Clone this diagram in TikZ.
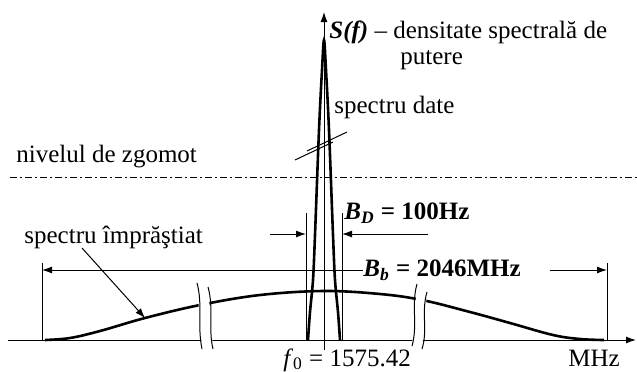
\documentclass[tikz,border=0pt]{standalone}
\usepackage{fontspec}
\setmainfont{Liberation Serif}
\usetikzlibrary{arrows.meta}

\begin{document}
\begin{tikzpicture}[x=0.5pt, y=-0.5pt, >={Latex[length=5pt,width=3.5pt]},
  fin/.style={line width=0.5pt},
  gros/.style={line width=1.3pt},
  eticheta/.style={font=\fontsize{12.5}{15}\selectfont, inner sep=0pt, anchor=west}]
  \useasboundingbox (0,0) rectangle (637,371);
  % spectrul imprastiat
  \draw[gros] plot[smooth, tension=0.6] coordinates {(45,340) (70,338) (100,331) (145,318)
    (200,305) (260,295) (324,291) (380,294) (422,300) (470,312) (510,323) (553,335) (580,339) (604,340)};
  % axe
  \draw[fin, ->] (8,340) -- (636,340);
  \draw[fin, ->] (324,350) -- (324,12);
  % intreruperi
  \fill[white] (197,283) -- (208,287) -- (213,349) -- (202,349) -- cycle;
  \draw[fin] (197,283) .. controls (203,305) and (197,325) .. (202,349);
  \draw[fin] (208,287) .. controls (214,308) and (208,328) .. (213,349);
  \fill[white] (417,284) -- (427,292) -- (422,349) -- (412,346) -- cycle;
  \draw[fin] (417,284) .. controls (411,305) and (418,325) .. (412,346);
  \draw[fin] (427,292) .. controls (421,312) and (428,330) .. (422,349);
  % spectrul datelor
  \draw[gros] plot[smooth, tension=0.55] coordinates {(308,340) (310,312) (313,280) (315,235)
    (319,130) (322,70) (324,40) (326,70) (329,130) (333,235) (335,280) (338,312) (340,340)};
  \draw[fin] (295,160) -- (333,142);
  \draw[fin] (307,151) -- (347,132);
  % nivelul de zgomot
  \draw[fin, dash pattern=on 3.5pt off 1.5pt on 1pt off 1.5pt] (10,177) -- (637,177);
  % repere
  \draw[fin] (42,263) -- (42,340);
  \draw[fin] (607,263) -- (607,340);
  \draw[fin] (306,213) -- (306,340);
  \draw[fin] (342,213) -- (342,340);
  \coordinate (bbL) at (42,270);
  \coordinate (bbR) at (607,270);
  \coordinate (bbA) at (550,270);
  \coordinate (bdL) at (306,234);
  \coordinate (bdR) at (342,234);
  \coordinate (bdA) at (270,234);
  \coordinate (bdB) at (428,234);
  % texte
  \node[eticheta] (sf) at (329,32) {\textbf{\textit{S(f)}} – densitate spectrală de};
  \node[eticheta] (putere) at (400,60) {putere};
  \node[eticheta] (date) at (334,107) {spectru date};
  \node[eticheta] (zgomot) at (16,157) {nivelul de zgomot};
  \node[eticheta] (imprastiat) at (24,237) {spectru împrăştiat};
  \node[eticheta] (bd) at (344,213) {\textbf{\textit{B}\textsubscript{\textit{D}} = 100Hz}};
  \node[eticheta] (bb) at (363,270) {\textbf{\textit{B}\textsubscript{\textit{b}} = 2046MHz}};
  \node[eticheta] (f0) at (283,360) {\textit{f}\textsubscript{0} = 1575.42};
  \node[eticheta] (mhz) at (568,358) {MHz};
  % sageti
  \draw[fin, ->] (bb.west) -- (bbL);
  \draw[fin, ->] (bbA) -- (bbR);
  \draw[fin, ->] (bdA) -- (bdL);
  \draw[fin, ->] (bdB) -- (bdR);
  \coordinate (imprA) at (82,248);
  \coordinate (imprB) at (145,318);
  \draw[fin, ->] (imprA) -- (imprB);
\end{tikzpicture}
\end{document}
